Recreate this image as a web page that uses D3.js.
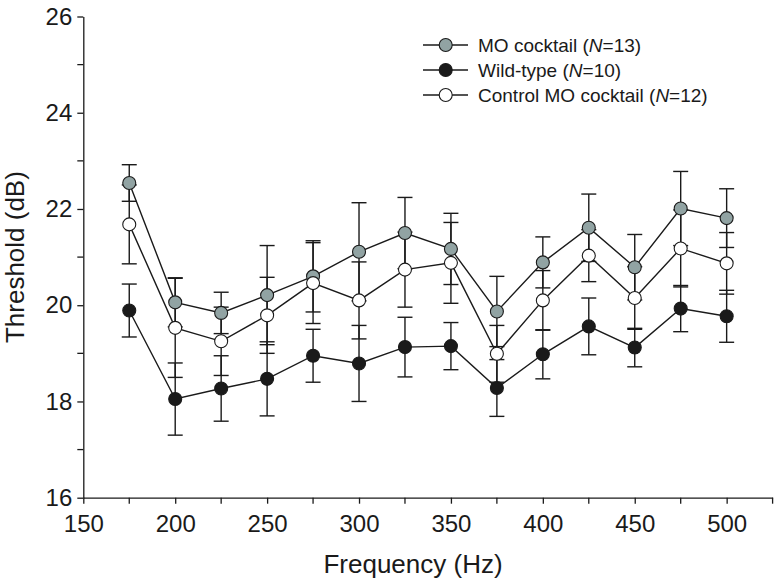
<!DOCTYPE html>
<html><head><meta charset="utf-8">
<script src="https://cdn.jsdelivr.net/npm/d3@7"></script>
<style>body{margin:0;background:#fff}svg{display:block}text{font-family:"Liberation Sans",Arial,sans-serif;fill:#1a1a1a}</style>
</head><body><svg id="c" width="776" height="581"></svg>
<script>
const frequencies = [175,200,225,250,275,300,325,350,375,400,425,450,475,500];
const moMean   = [22.54,20.06,19.84,20.21,20.60,21.11,21.50,21.17,19.87,20.89,21.61,20.79,22.01,21.81];
const moSem    = [0.38,0.51,0.43,1.03,0.74,1.02,0.74,0.74,0.73,0.53,0.70,0.68,0.77,0.61];
const wtMean   = [19.89,18.05,18.27,18.47,18.95,18.79,19.13,19.15,18.28,18.98,19.56,19.12,19.93,19.77];
const wtSem    = [0.55,0.75,0.68,0.77,0.55,0.79,0.62,0.49,0.59,0.51,0.59,0.40,0.48,0.54];
const ctlMean  = [21.68,19.53,19.25,19.79,20.46,20.10,20.74,20.88,18.99,20.10,21.03,20.15,21.18,20.87];
const ctlSem   = [0.82,1.03,0.71,0.79,0.84,0.80,0.78,0.84,0.59,0.62,0.54,0.65,0.80,0.64];
const xTicks = [150,200,250,300,350,400,450,500];
const yTicks = [16,18,20,22,24,26];
const seriesNames = ["MO cocktail", "Wild-type", "Control MO cocktail"];
const seriesN = [13,10,12];

const svg = d3.select("#c");
const x = d3.scaleLinear().domain([150,525]).range([83.3,772.6]);
const y = d3.scaleLinear().domain([16,26]).range([497.7,16.5]);
const ink = "#1a1a1a";

// axes
const gx = svg.append("g").attr("transform",`translate(0,${y(16)})`)
  .call(d3.axisBottom(x).tickValues(xTicks).tickSize(6).tickSizeOuter(0).tickPadding(11).tickFormat(d3.format("d")));
const gy = svg.append("g").attr("transform",`translate(${x(150)},0)`)
  .call(d3.axisLeft(y).tickValues(yTicks).tickSize(6).tickSizeOuter(0).tickPadding(5).tickFormat(d3.format("d")));
[gx,gy].forEach(g=>{
  g.select(".domain").attr("stroke",ink).attr("stroke-width",1.3);
  g.selectAll(".tick line").attr("stroke",ink).attr("stroke-width",1.3);
  g.selectAll(".tick text").style("font-size","24px").attr("fill",ink);
});
// minor ticks
const xMinor = d3.range(175,525,50).concat([525]);
svg.append("g").selectAll("line").data(xMinor).join("line")
  .attr("x1",d=>x(d)).attr("x2",d=>x(d)).attr("y1",y(16)).attr("y2",y(16)+6)
  .attr("stroke",ink).attr("stroke-width",1.3);
const yMinor = [17,19,21,23,25];
svg.append("g").selectAll("line").data(yMinor).join("line")
  .attr("x1",x(150)-6).attr("x2",x(150)).attr("y1",d=>y(d)).attr("y2",d=>y(d))
  .attr("stroke",ink).attr("stroke-width",1.3);

// titles
svg.append("text").attr("x",413).attr("y",572.5).attr("text-anchor","middle")
  .style("font-size","26px").text("Frequency (Hz)");
svg.append("text").attr("transform",`translate(24,${y(21)}) rotate(-90)`).attr("text-anchor","middle")
  .style("font-size","26px").text("Threshold (dB)");

const series = [
  {mean:moMean, sem:moSem, fill:"#91a3a3"},
  {mean:wtMean, sem:wtSem, fill:"#1a1a1a"},
  {mean:ctlMean, sem:ctlSem, fill:"#ffffff"}
];
const cap = 7.5, r = 6.5;
// error bars first
series.forEach(s=>{
  const g = svg.append("g").attr("stroke",ink).attr("stroke-width",1.4);
  frequencies.forEach((f,i)=>{
    const cx = x(f), hi = y(s.mean[i]+s.sem[i]), lo = y(s.mean[i]-s.sem[i]);
    g.append("line").attr("x1",cx).attr("x2",cx).attr("y1",hi).attr("y2",lo);
    g.append("line").attr("x1",cx-cap).attr("x2",cx+cap).attr("y1",hi).attr("y2",hi);
    g.append("line").attr("x1",cx-cap).attr("x2",cx+cap).attr("y1",lo).attr("y2",lo);
  });
});
const line = d3.line().x((d,i)=>x(frequencies[i])).y(d=>y(d));
series.forEach(s=>{
  svg.append("path").datum(s.mean).attr("d",line).attr("fill","none").attr("stroke",ink).attr("stroke-width",1.4);
});
series.forEach(s=>{
  svg.append("g").selectAll("circle").data(s.mean).join("circle")
    .attr("cx",(d,i)=>x(frequencies[i])).attr("cy",d=>y(d)).attr("r",r)
    .attr("fill",s.fill).attr("stroke",ink).attr("stroke-width",1.1);
});

// legend
const leg = svg.append("g");
seriesNames.forEach((nm,i)=>{
  const yy = 45 + i*25;
  leg.append("line").attr("x1",423).attr("x2",468).attr("y1",yy).attr("y2",yy).attr("stroke",ink).attr("stroke-width",1.4);
  leg.append("circle").attr("cx",445.7).attr("cy",yy).attr("r",r).attr("fill",series[i].fill).attr("stroke",ink).attr("stroke-width",1.1);
  const t = leg.append("text").attr("x",478).attr("y",yy+6.5).style("font-size","19px");
  t.append("tspan").text(nm+" (");
  t.append("tspan").style("font-style","italic").text("N");
  t.append("tspan").text("="+seriesN[i]+")");
});
</script></body></html>
